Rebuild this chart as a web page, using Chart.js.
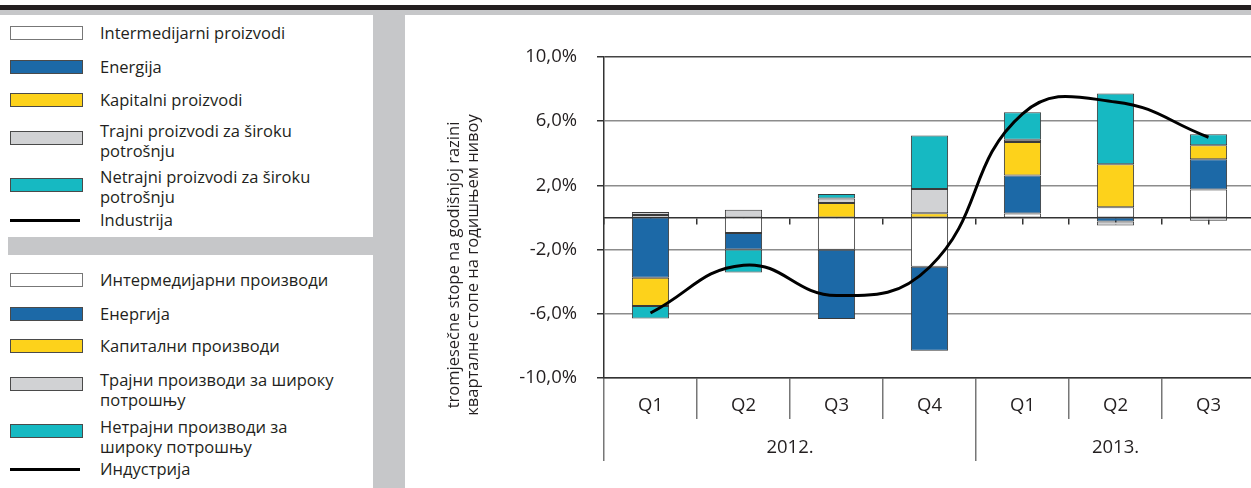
<!DOCTYPE html>
<html>
<head>
<meta charset="utf-8">
<script src="https://cdn.jsdelivr.net/npm/chart.js@4"></script>
<style>
  html, body { margin: 0; padding: 0; background: #fff; overflow: hidden; }
  body { width: 1251px; height: 488px; position: relative; font-family: "Open Sans", sans-serif; color: #231f20; }
  .topbar { position: absolute; left: 0; top: 5px; width: 1251px; height: 5px; background: #231f20; }
  .topband { position: absolute; left: 0; top: 10px; width: 1251px; height: 5px; background: #c6c7c9; }
  .panel { position: absolute; left: 8px; top: 15px; width: 397px; height: 473px; background: #c6c7c9; }
  .box { position: absolute; left: 8px; width: 365px; background: #fff; }
  .swatch { position: absolute; left: 10px; width: 73px; height: 14px; box-sizing: border-box; border: 1px solid #4a4a4a; }
  .lineKey { position: absolute; left: 10px; width: 70px; height: 3px; background: #000; }
  .label { position: absolute; left: 100px; font-size: 16.5px; line-height: 20px; white-space: nowrap; }
  #chartBox { position: absolute; left: 410px; top: 15px; width: 850px; height: 473px; }
</style>
</head>
<body>
<div class="topbar"></div>
<div class="topband"></div>
<div class="panel"></div>
<div class="box" style="top:15px;height:222px"></div>
<div class="box" style="top:255px;height:233px"></div>
<div id="legends"></div>
<div id="chartBox"><canvas id="chart"></canvas></div>

<script>
// quarters on the category axis, grouped by year
const quarters = ['Q1', 'Q2', 'Q3', 'Q4', 'Q1', 'Q2', 'Q3'];
const years = ['2012.', '2013.'];
const quartersPerYear = [4, 3];
const yTickValues = [-10, -6, -2, 2, 6, 10];

// contributions to quarterly growth, percentage points
const intermedijarni = [0.15, -0.97, -2.01, -3.07, 0.25, 0.64, 1.74];
const energija = [-3.76, -1.02, -4.32, -5.23, 2.37, -0.25, 1.89];
const kapitalni = [-1.76, null, 0.9, 0.27, 2.08, 2.67, 0.87];
const trajni = [0.2, 0.48, 0.29, 1.5, 0.15, -0.25, -0.2];
const netrajni = [-0.77, -1.43, 0.27, 3.34, 1.71, 4.42, 0.69];
const industrija = [-5.95, -2.97, -4.86, -3.1, 6.46, 7.2, 5.0];

const namesLat = ['Intermedijarni proizvodi', 'Energija', 'Kapitalni proizvodi',
  'Trajni proizvodi za široku\npotrošnju', 'Netrajni proizvodi za široku\npotrošnju', 'Industrija'];
const namesCyr = ['Интермедијарни производи', 'Енергија', 'Капитални производи',
  'Трајни производи за широку\nпотрошњу', 'Нетрајни производи за\nшироку потрошњу', 'Индустрија'];
const yTitle = ['tromjesečne stope na godišnjoj razini', 'квартaлне стопе на годишњем нивоу'];

const colors = ['#ffffff', '#1c69a7', '#fdd21b', '#d1d2d4', '#16b9c2'];
const barSeries = [intermedijarni, energija, kapitalni, trajni, netrajni];

// html legends: swatch centre and first text line centre per row
function buildLegend(names, rows) {
  const host = document.getElementById('legends');
  names.forEach((name, i) => {
    const r = rows[i];
    const key = document.createElement('div');
    if (i < colors.length) {
      key.className = 'swatch';
      key.style.top = (r.s - 7) + 'px';
      key.style.background = colors[i];
      if (i === 0) key.style.borderColor = '#777';
    } else {
      key.className = 'lineKey';
      key.style.top = (r.s - 1.5) + 'px';
    }
    host.appendChild(key);
    const lab = document.createElement('div');
    lab.className = 'label';
    lab.style.top = (r.t - 10) + 'px';
    lab.innerHTML = name.replace('\n', '<br>');
    host.appendChild(lab);
  });
}
buildLegend(namesLat, [{s: 33, t: 33}, {s: 67, t: 67}, {s: 100, t: 100},
  {s: 138, t: 131}, {s: 185, t: 177}, {s: 220, t: 220}]);
buildLegend(namesCyr, [{s: 280, t: 280}, {s: 314, t: 314}, {s: 346, t: 346},
  {s: 384, t: 380}, {s: 431, t: 427}, {s: 469, t: 469}]);

// rotated two-line axis title left of the value axis
const yTitlePlugin = {
  id: 'yTitle',
  afterDraw(chart) {
    const ctx = chart.ctx;
    ctx.save();
    ctx.font = '16.5px "Open Sans"';
    ctx.fillStyle = '#231f20';
    ctx.textAlign = 'center';
    ctx.textBaseline = 'middle';
    ctx.translate(44, 250);
    ctx.rotate(-Math.PI / 2);
    yTitle.forEach((line, i) => ctx.fillText(line, 0, i * 19.5));
    ctx.restore();
  }
};

// year group boundaries and centres on the second category row
const yearBounds = [-0.5];
const yearCentres = [];
quartersPerYear.forEach(n => {
  const start = yearBounds[yearBounds.length - 1];
  yearCentres.push(start + n / 2);
  yearBounds.push(start + n);
});

const datasets = barSeries.map((vals, i) => ({
  label: namesLat[i],
  data: vals,
  backgroundColor: colors[i],
  borderColor: '#3a3a3a',
  borderWidth: 1,
  borderSkipped: false,
  barPercentage: 0.4,
  categoryPercentage: 1,
  xAxisID: 'x',
  yAxisID: 'y',
  order: 1
}));
datasets.push({
  type: 'line',
  label: namesLat[5],
  data: industrija,
  borderColor: '#000',
  borderWidth: 3,
  pointRadius: 0,
  tension: 0.45,
  stack: 'industrija',
  xAxisID: 'x',
  yAxisID: 'y',
  order: 0
});

const tickFont = { family: 'Open Sans', size: 18.5 };

new Chart(document.getElementById('chart'), {
  type: 'bar',
  data: { labels: quarters, datasets },
  plugins: [yTitlePlugin],
  options: {
    responsive: true,
    maintainAspectRatio: false,
    animation: false,
    layout: { padding: { left: 20, right: 5, top: 42, bottom: 27 } },
    plugins: { legend: { display: false }, tooltip: { enabled: false } },
    scales: {
      y: {
        stacked: true,
        min: -10,
        max: 10,
        afterBuildTicks: s => { s.ticks = yTickValues.map(v => ({ value: v })); },
        afterFit: s => { s.width = 174; },
        border: { color: '#333', width: 1.5 },
        grid: {
          color: c => (c.tick && c.tick.value === 10) ? '#444' : '#8c8c8c',
          lineWidth: 1.5,
          tickLength: 7,
          tickColor: '#333'
        },
        ticks: {
          font: tickFont,
          color: '#231f20',
          padding: 20,
          callback: v => v.toFixed(1).replace('.', ',') + '%'
        }
      },
      x: {
        stacked: true,
        weight: 0,
        afterFit: s => { s.height = 41; },
        border: { color: '#333', width: 1.5 },
        grid: { offset: true, drawOnChartArea: false, tickLength: 41, color: '#777', lineWidth: 1.5 },
        ticks: { font: tickFont, color: '#231f20', padding: -24, autoSkip: false, maxRotation: 0 }
      },
      x2: {
        type: 'linear',
        position: 'bottom',
        weight: 1,
        offset: false,
        min: -0.5,
        max: quarters.length - 0.5,
        afterBuildTicks: s => {
          s.ticks = yearBounds.concat(yearCentres).sort((a, b) => a - b).map(v => ({ value: v }));
        },
        afterFit: s => { s.height = 42; },
        border: { display: false },
        grid: {
          offset: false,
          drawOnChartArea: false,
          tickLength: 42,
          lineWidth: 1.5,
          color: c => (c.tick && yearCentres.includes(c.tick.value)) ? 'rgba(0,0,0,0)' : '#777'
        },
        ticks: {
          font: tickFont,
          color: '#231f20',
          padding: -24,
          autoSkip: false,
          maxRotation: 0,
          callback: v => {
            const i = yearCentres.indexOf(v);
            return i >= 0 ? years[i] : '';
          }
        }
      },
      // zero line with short marks at category centres and boundaries
      x3: {
        type: 'linear',
        position: { y: 0 },
        z: 1,
        offset: false,
        min: -0.5,
        max: quarters.length - 0.5,
        border: { color: '#333', width: 1.5 },
        grid: { offset: false, drawOnChartArea: false, tickLength: 6, color: '#333', lineWidth: 1.5 },
        ticks: { display: false, stepSize: 0.5 }
      }
    }
  }
});
</script>
</body>
</html>
